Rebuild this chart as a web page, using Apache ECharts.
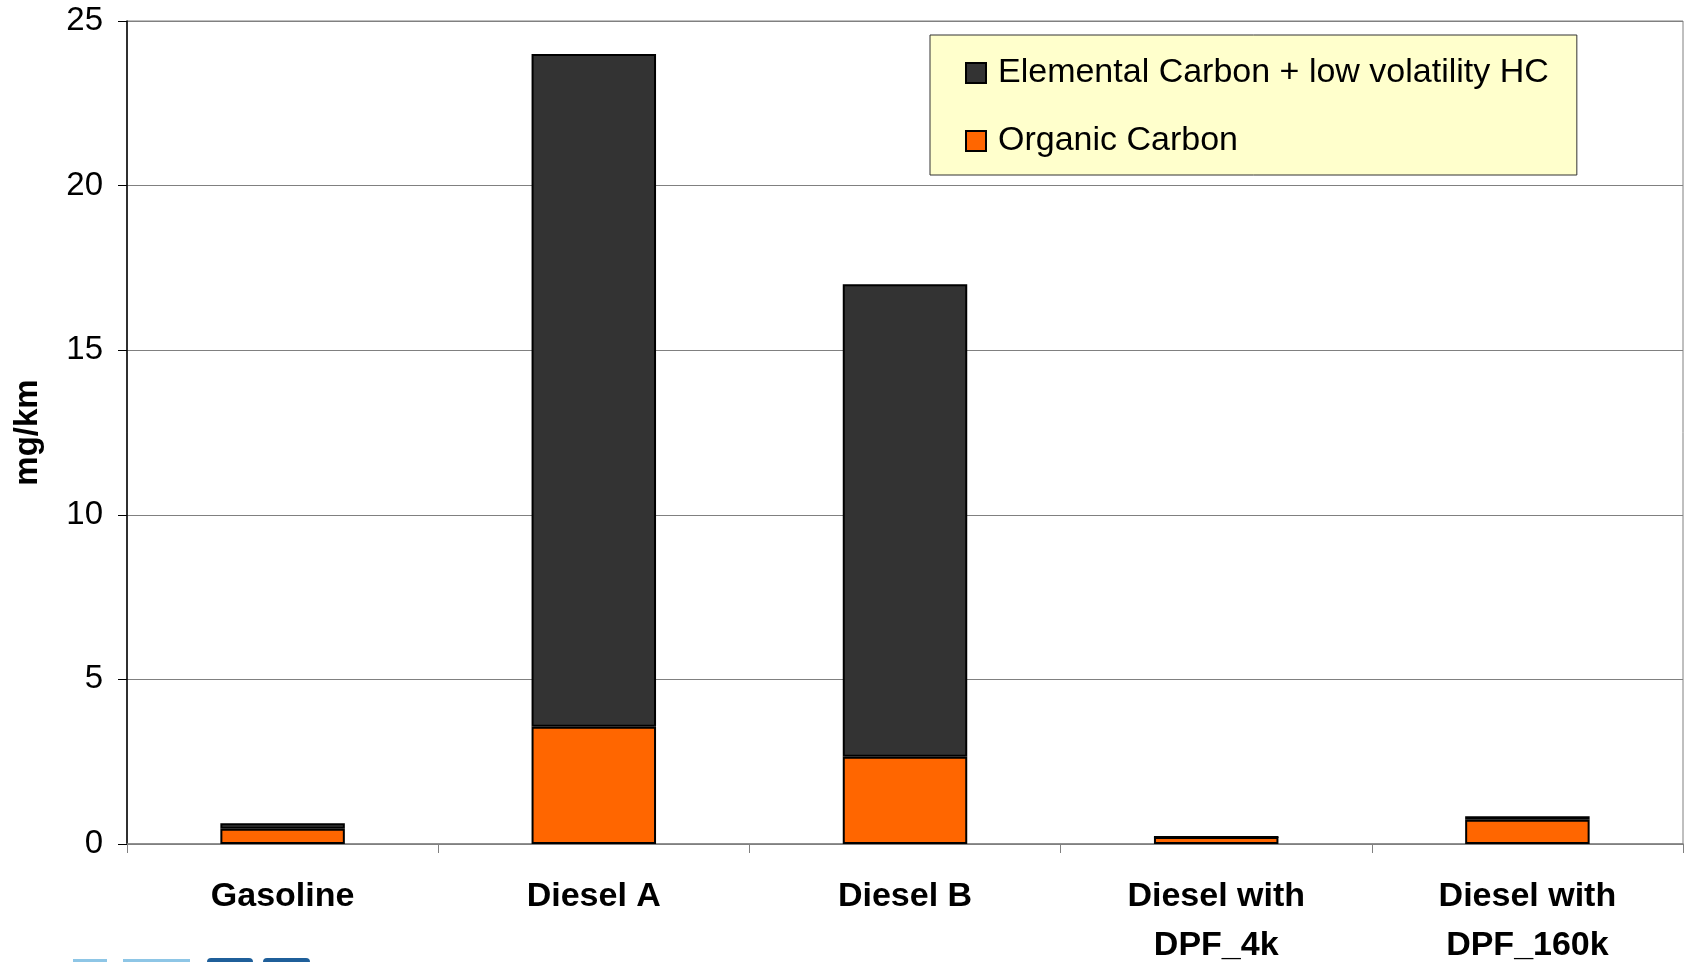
<!DOCTYPE html>
<html>
<head>
<meta charset="utf-8">
<script src="https://cdn.jsdelivr.net/npm/echarts@6/dist/echarts.min.js"></script>
<style>
html,body{margin:0;padding:0;background:#fff;}
#chart{width:1686px;height:962px;}
</style>
</head>
<body>
<div id="chart"></div>
<script>
const categories = ['Gasoline', 'Diesel A', 'Diesel B', 'Diesel with\nDPF_4k', 'Diesel with\nDPF_160k'];
const organicCarbon = [0.46, 3.56, 2.65, 0.21, 0.74];
const elementalCarbon = [0.17, 20.44, 14.35, 0, 0.1];
const yTicks = [0, 5, 10, 15, 20, 25];
const seriesNames = ['Elemental Carbon + low volatility HC', 'Organic Carbon'];

const chart = echarts.init(document.getElementById('chart'), null, {renderer: 'canvas'});
const font = '"Liberation Sans", Arial, sans-serif';
chart.setOption({
  animation: false,
  backgroundColor: '#ffffff',
  grid: {left: 127, right: 3, top: 21, bottom: 118, show: true, borderColor: '#808080', borderWidth: 1, outerBoundsMode: 'none', containLabel: false},
  legend: {
    data: seriesNames,
    orient: 'vertical',
    left: 930, top: 35,
    backgroundColor: '#ffffcc',
    borderColor: '#333333', borderWidth: 1,
    padding: [21, 28, 17, 35],
    itemGap: 34,
    itemWidth: 20, itemHeight: 20,
    textStyle: {fontFamily: font, fontSize: 34, color: '#000', padding: [0, 0, 0, 7]},
    icon: 'rect'
  },
  xAxis: {
    type: 'category',
    data: categories,
    axisLine: {lineStyle: {color: '#808080', width: 1.5}},
    axisTick: {show: true, length: 9, lineStyle: {color: '#808080'}},
    axisLabel: {interval: 0, fontFamily: font, fontSize: 34, fontWeight: 'bold', color: '#000', lineHeight: 49, margin: 28}
  },
  yAxis: {
    type: 'value',
    min: yTicks[0], max: yTicks[yTicks.length - 1], interval: 5,
    name: 'mg/km',
    nameLocation: 'middle', nameGap: 83, nameRotate: 90,
    nameTextStyle: {fontFamily: font, fontSize: 33, fontWeight: 'bold', color: '#000'},
    axisLine: {show: true, lineStyle: {color: '#000', width: 1.5}},
    axisTick: {show: true, length: 9, lineStyle: {color: '#000'}},
    axisLabel: {fontFamily: font, fontSize: 33, color: '#000', margin: 24},
    splitLine: {lineStyle: {color: '#808080', width: 1}}
  },
  graphic: [
    {type: 'rect', shape: {x: 73, y: 959, width: 34, height: 5}, style: {fill: '#8ec6e6'}, silent: true},
    {type: 'rect', shape: {x: 123, y: 959, width: 67, height: 5}, style: {fill: '#8ec6e6'}, silent: true},
    {type: 'rect', shape: {x: 207, y: 958, width: 46, height: 6, r: [4, 4, 0, 0]}, style: {fill: '#1f5f9a'}, silent: true},
    {type: 'rect', shape: {x: 263, y: 958, width: 47, height: 6, r: [4, 4, 0, 0]}, style: {fill: '#1f5f9a'}, silent: true}
  ],
  series: [
    {
      name: seriesNames[1], type: 'bar', stack: 'total', data: organicCarbon,
      barWidth: '40%',
      itemStyle: {color: '#ff6600', borderColor: '#000', borderWidth: 2}
    },
    {
      name: seriesNames[0], type: 'bar', stack: 'total', data: elementalCarbon,
      barWidth: '40%',
      itemStyle: {color: '#333333', borderColor: '#000', borderWidth: 2}
    }
  ]
});
</script>
</body>
</html>
